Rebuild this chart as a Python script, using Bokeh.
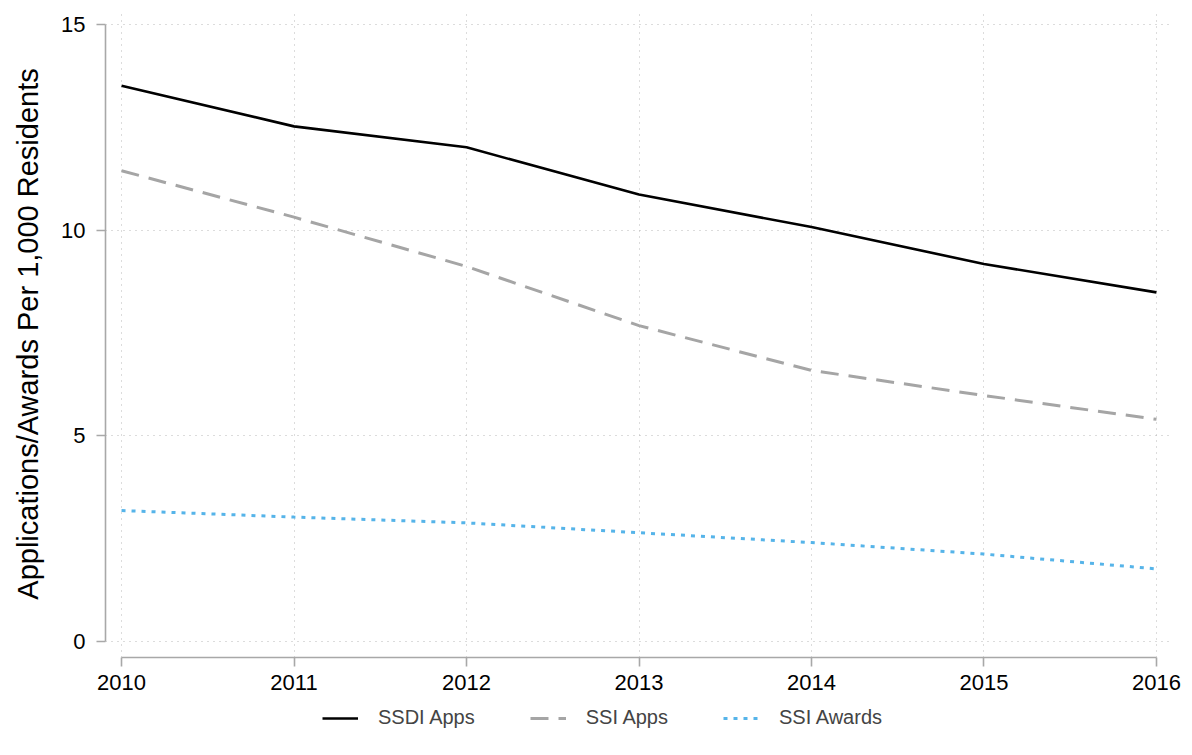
from bokeh.plotting import figure
from bokeh.models import Range1d, FixedTicker, Legend, LegendItem, ColumnDataSource
from bokeh.layouts import column
from bokeh.embed import file_html
from bokeh.resources import INLINE

years = [2010, 2011, 2012, 2013, 2014, 2015, 2016]
ssdi_apps = [13.52, 12.53, 12.02, 10.87, 10.08, 9.18, 8.49]
ssi_apps = [11.45, 10.32, 9.12, 7.68, 6.59, 5.98, 5.40]
ssi_awards = [3.18, 3.02, 2.88, 2.64, 2.40, 2.12, 1.76]
y_ticks = [0, 5, 10, 15]
series_names = ["SSDI Apps", "SSI Apps", "SSI Awards"]

FONT = "Liberation Sans"
styles = [dict(line_color="black", line_width=2.6),
          dict(line_color="#A5A5A5", line_width=3, line_dash="18 10"),
          dict(line_color="#56B4E9", line_width=3, line_dash="4 6")]

p = figure(width=1192, height=701, output_backend="svg", toolbar_location=None,
           x_range=Range1d(2009.907, 2016.093), y_range=Range1d(-0.397, 15.35),
           min_border_left=105, min_border_right=20, min_border_top=10, min_border_bottom=44)
p.outline_line_color = None
p.background_fill_color = "white"

src = ColumnDataSource(dict(x=years, a=ssdi_apps, b=ssi_apps, c=ssi_awards))
for col, st in zip(["a", "b", "c"], styles):
    p.line("x", col, source=src, **st)

for ax in (p.xaxis[0], p.yaxis[0]):
    ax.axis_line_color = "#A8A8A8"
    ax.axis_line_width = 1.6
    ax.major_tick_line_color = "#A8A8A8"
    ax.major_tick_line_width = 1.6
    ax.major_tick_out = 9
    ax.major_tick_in = 0
    ax.minor_tick_line_color = None
    ax.major_label_text_font = FONT
    ax.major_label_text_font_size = "22px"
    ax.major_label_text_color = "black"

p.xaxis[0].ticker = FixedTicker(ticks=years)
p.xaxis[0].bounds = (years[0], years[-1])
p.xaxis[0].major_label_standoff = 8
p.yaxis[0].ticker = FixedTicker(ticks=y_ticks)
p.yaxis[0].bounds = (y_ticks[0], y_ticks[-1])
p.yaxis[0].major_label_orientation = "horizontal"
p.yaxis[0].major_label_standoff = 11
p.yaxis[0].axis_label = "Applications/Awards Per 1,000 Residents"
p.yaxis[0].axis_label_text_font = FONT
p.yaxis[0].axis_label_text_font_size = "29px"
p.yaxis[0].axis_label_text_font_style = "normal"
p.yaxis[0].axis_label_text_color = "black"
p.yaxis[0].axis_label_standoff = 14

for g in (p.xgrid[0], p.ygrid[0]):
    g.grid_line_color = "#B8B8B8"
    g.grid_line_width = 1
    g.grid_line_dash = "1 5"
p.xgrid[0].ticker = FixedTicker(ticks=years)
p.ygrid[0].ticker = FixedTicker(ticks=y_ticks)

# legend panel
pl = figure(width=1192, height=28, output_backend="svg", toolbar_location=None,
            x_range=Range1d(0, 1), y_range=Range1d(0, 1), min_border=0)
pl.axis.visible = False
pl.grid.visible = False
pl.outline_line_color = None
rs = [pl.line([-10, -9], [-10, -9], **st) for st in styles]
legend = Legend(items=[LegendItem(label=n, renderers=[r]) for n, r in zip(series_names, rs)],
                orientation="horizontal", location=(217, 0))
legend.label_text_font = FONT
legend.label_text_font_size = "20px"
legend.border_line_color = None
legend.background_fill_alpha = 0
legend.glyph_width = 36
legend.glyph_height = 20
legend.spacing = 55
legend.label_standoff = 20
legend.margin = 0
legend.padding = 0
pl.add_layout(legend, "center")

layout = column(p, pl, spacing=0)
open("out.html", "w").write(file_html(layout, INLINE))
